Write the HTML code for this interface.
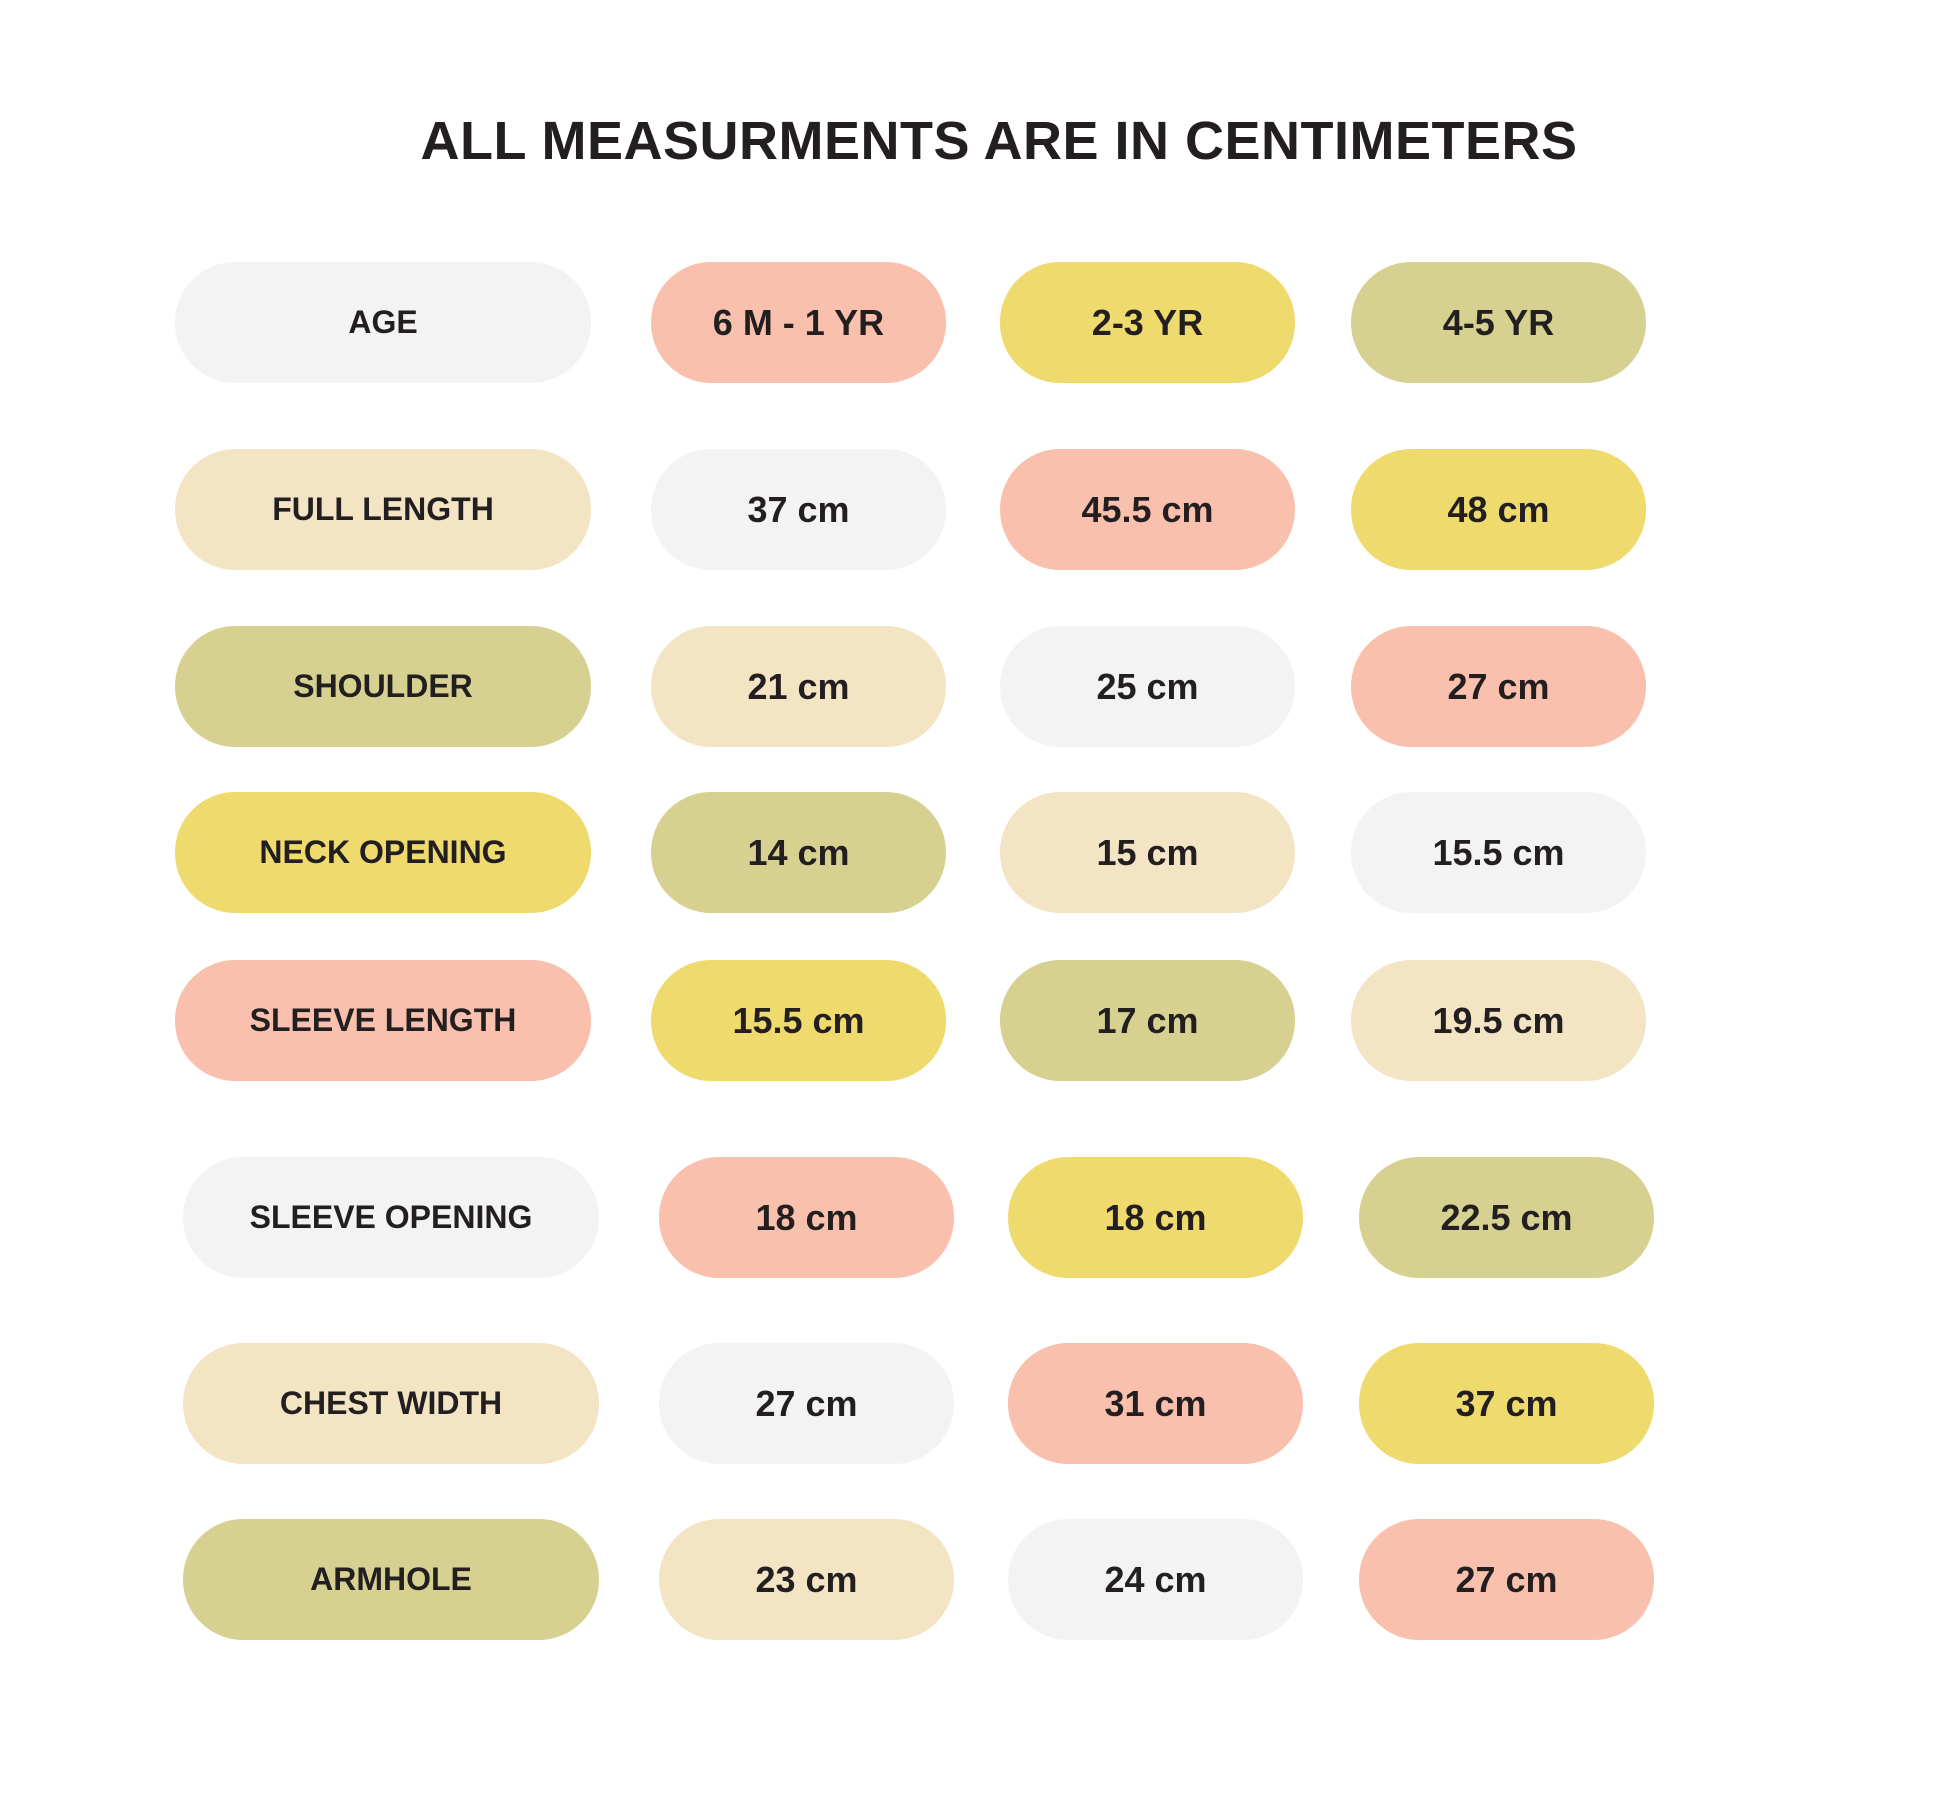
<!DOCTYPE html>
<html><head><meta charset="utf-8">
<style>
html,body{margin:0;padding:0;background:#fff;}
body{width:1946px;height:1802px;position:relative;overflow:hidden;font-family:"Liberation Sans",sans-serif;color:#231f20;}
#title{position:absolute;left:0;width:1998px;top:110px;text-align:center;font-weight:bold;font-size:54px;letter-spacing:0.5px;}
.pill{position:absolute;height:121px;border-radius:60px;display:flex;align-items:center;justify-content:center;font-weight:bold;}
.lab{font-size:32px;}
.val{font-size:36px;}
</style></head>
<body>
<div id="title">ALL MEASURMENTS ARE IN CENTIMETERS</div>
<div id="grid"></div>
<script>
const rowLabels=["AGE","FULL LENGTH","SHOULDER","NECK OPENING","SLEEVE LENGTH","SLEEVE OPENING","CHEST WIDTH","ARMHOLE"];
const col1=["6 M - 1 YR","37 cm","21 cm","14 cm","15.5 cm","18 cm","27 cm","23 cm"];
const col2=["2-3 YR","45.5 cm","25 cm","15 cm","17 cm","18 cm","31 cm","24 cm"];
const col3=["4-5 YR","48 cm","27 cm","15.5 cm","19.5 cm","22.5 cm","37 cm","27 cm"];
const rowTops=[262,449,626,792,960,1157,1343,1519];
const rowShift=[0,0,0,0,0,8,8,8];
const G="#f2f3f2",P="#f9c0ad",Y="#efda6e",O="#d6d190",C="#f3e4c4";
const palette=[[G,P,Y,O],[C,G,P,Y],[O,C,G,P],[Y,O,C,G],[P,Y,O,C],[G,P,Y,O],[C,G,P,Y],[O,C,G,P]];
const colX=[175,651,1000,1351],colW=[416,295,295,295];
const grid=document.getElementById('grid');
rowLabels.forEach((lab,r)=>{
  const texts=[lab,col1[r],col2[r],col3[r]];
  texts.forEach((t,c)=>{
    const d=document.createElement('div');
    d.className='pill '+(c===0?'lab':'val');
    d.style.left=(colX[c]+rowShift[r])+'px';
    d.style.width=colW[c]+'px';
    d.style.top=rowTops[r]+'px';
    d.style.background=palette[r][c];
    d.textContent=t;
    
    
    grid.appendChild(d);
  });
});
</script>
</body></html>
